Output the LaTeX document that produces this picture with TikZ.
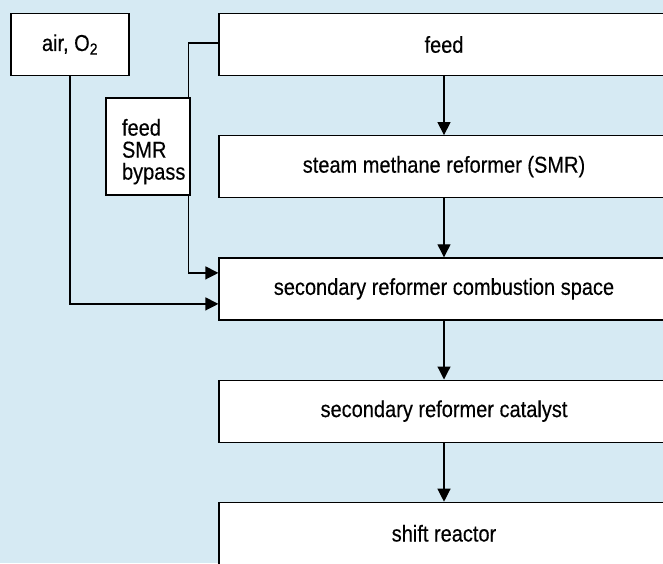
\documentclass[tikz,border=0pt]{standalone}
\usepackage{fontspec}
\setmainfont{Liberation Sans}[FakeStretch=0.87, FakeBold=0.3]
\usepackage{xcolor}
\usepackage{tikz}
\usetikzlibrary{arrows.meta,positioning}
\definecolor{panelblue}{RGB}{214,234,243}

\begin{document}
\begin{tikzpicture}[x=1pt, y=-1pt, >={Triangle[length=13pt,width=13pt]}, node distance=59pt,
    stage/.style={draw, fill=white, line width=1.2pt, minimum width=450pt, minimum height=62pt, inner sep=0pt, font=\fontsize{23}{26}\selectfont},
    flow/.style={->, line width=1.2pt}]
        \fill[panelblue] (0,0) rectangle (663,563);
        \useasboundingbox (0,0) rectangle (663,563);
        \clip (0,0) rectangle (663,563);

        % main chain
        \node[stage] (feed) at (444,44.5) {feed};
        \node[stage, below=of feed] (smr) {steam methane reformer (SMR)};
        \node[stage, below=of smr] (comb) {secondary reformer combustion space};
        \node[stage, below=of comb] (cat) {secondary reformer catalyst};
        \node[stage, below=of cat] (shift) {shift reactor};

        \node[stage, minimum width=118pt] (air) at (70,44.5) {air, O\textsubscript{2}};

        \draw[flow] (feed) -- (smr);
        \draw[flow] (smr) -- (comb);
        \draw[flow] (comb) -- (cat);
        \draw[flow] (cat) -- (shift);

        % side streams
        \draw[flow] ([yshift=1.5pt]feed.west) -- ++(-30,0) |- ([yshift=16pt]comb.west);
        \draw[flow] (air.south) |- ([yshift=-15pt]comb.west);

        \node[draw, fill=white, line width=1.2pt, align=left, text width=52pt, inner xsep=16pt, inner ysep=0pt, minimum height=97pt, font=\fontsize{23}{22}\selectfont] (bypass) at (148,146.5) {\rule{0pt}{27pt}feed\\SMR\\bypass};
    \end{tikzpicture}
\end{document}
